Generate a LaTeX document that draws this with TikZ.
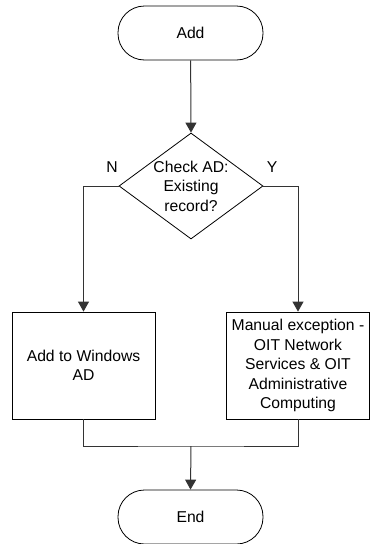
\documentclass[tikz,border=0pt]{standalone}
\usepackage{fontspec}
\setmainfont{Liberation Sans}
\usetikzlibrary{arrows.meta,shapes.geometric}

\begin{document}
\begin{tikzpicture}[x=1pt,y=-1pt,
  txt/.style={font=\fontsize{15.7pt}{19.5pt}\selectfont, align=center, inner sep=0pt},
  term/.style={draw, line width=0.8pt, rounded corners=26.5pt, minimum width=145pt, minimum height=54pt, txt},
  decide/.style={draw, line width=0.8pt, diamond, minimum width=144pt, minimum height=106pt, inner sep=0pt},
  procbox/.style={draw, line width=0.8pt, minimum width=143pt, minimum height=107pt, txt},
  conn/.style={line width=1pt, black!80, -{Triangle[length=10pt,width=11pt]}},
  joinline/.style={line width=1pt, black!80}]
\useasboundingbox (0,0) rectangle (370,544);

% Start and decision
\node[term] (add) at (190.5,33) {Add};
\node[decide] (chk) at (191,186) {};
\node[txt] (chktext) at (chk.center) {Check AD:\\Existing\\record?};
\node[txt] (no) at (112,167) {N};
\node[txt] (yes) at (272,167) {Y};

% Actions
\node[procbox] (winbox) at (83.5,365.5) {Add to Windows\\AD};
\node[procbox] (manual) at (298,365.5) {Manual exception -\\OIT Network\\Services \& OIT\\Administrative\\Computing};

% End
\node[term] (end) at (190.5,517) {End};
\coordinate (merge) at (191,446);

% Connectors
\draw[conn] (add) -- (chk.north);
\draw[conn] (chk.west) -| (winbox.north);
\draw[conn] (chk.east) -| (manual.north);
\draw[joinline] (winbox.south) |- (merge) -| (manual.south);
\draw[conn] (merge) -- (end.north);
\end{tikzpicture}
\end{document}
